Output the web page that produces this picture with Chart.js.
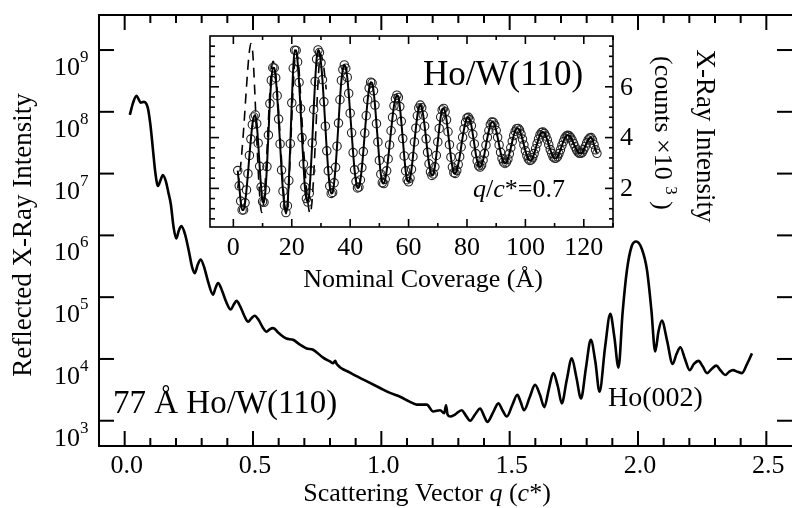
<!DOCTYPE html>
<html>
<head>
<meta charset="utf-8">
<title>Ho/W(110) reflectivity</title>
<script src="https://cdn.jsdelivr.net/npm/chart.js@4.4.1/dist/chart.umd.min.js"></script>
<style>
  html, body { margin: 0; padding: 0; background: #fff; }
  #box { position: relative; width: 792px; height: 508px; }
  #box canvas { position: absolute; left: 0; top: 0; }
</style>
</head>
<body>
<div id="box">
  <canvas id="mainChart" width="792" height="508"></canvas>
  <canvas id="insetChart" width="792" height="508"></canvas>
</div>
<script>
// Main curve: scattering vector q (c*) and reflected intensity
const mainQ = [
  0.020, 0.033, 0.046, 0.055, 0.062, 0.075, 0.090, 0.100, 0.110, 0.120,
  0.130, 0.140, 0.149, 0.160, 0.170, 0.180, 0.190, 0.201, 0.211, 0.221,
  0.235, 0.250, 0.262, 0.273, 0.285, 0.296, 0.310, 0.325, 0.344, 0.354,
  0.364, 0.378, 0.395, 0.413, 0.425, 0.436, 0.450, 0.466, 0.481, 0.494,
  0.507, 0.522, 0.538, 0.553, 0.565, 0.578, 0.600, 0.630, 0.656, 0.683,
  0.709, 0.734, 0.773, 0.800, 0.812, 0.820, 0.826, 0.878, 0.942, 0.995,
  1.034, 1.073, 1.110, 1.138, 1.177, 1.202, 1.229, 1.245, 1.252, 1.258,
  1.268, 1.287, 1.313, 1.330, 1.346, 1.365, 1.385, 1.400, 1.413, 1.435,
  1.456, 1.472, 1.489, 1.510, 1.530, 1.543, 1.556, 1.578, 1.599, 1.618,
  1.635, 1.652, 1.670, 1.688, 1.703, 1.722, 1.742, 1.760, 1.778, 1.797,
  1.816, 1.834, 1.850, 1.872, 1.892, 1.908, 1.924, 1.940, 1.957, 1.975,
  1.993, 2.015, 2.035, 2.052, 2.067, 2.080, 2.093, 2.113, 2.135, 2.150,
  2.165, 2.183, 2.201, 2.218, 2.236, 2.252, 2.269, 2.287, 2.305, 2.322,
  2.340, 2.355, 2.370, 2.388, 2.405, 2.425, 2.444
];
const mainIntensity = [
  8.9e7, 1.41e8, 1.82e8, 1.58e8, 1.41e8, 1.45e8, 1.17e8, 6.3e7, 2.5e7, 1.0e7,
  6.3e6, 7.9e6, 9.5e6, 7.6e6, 5.0e6, 3.16e6, 1.41e6, 8.9e5, 1.2e6, 1.41e6,
  1.05e6, 5.6e5, 3.16e5, 2.45e5, 3.39e5, 4.07e5, 3.02e5, 1.78e5, 1.10e5, 1.41e5,
  1.70e5, 1.32e5, 8.5e4, 6.3e4, 7.6e4, 8.7e4, 7.1e4, 5.0e4, 4.0e4, 4.57e4,
  5.0e4, 4.27e4, 3.24e4, 2.75e4, 3.02e4, 3.16e4, 2.63e4, 2.14e4, 2.04e4, 1.70e4,
  1.48e4, 1.41e4, 1.05e4, 9.1e3, 8.5e3, 9.3e3, 8.3e3, 6.0e3, 4.37e3, 3.39e3,
  2.82e3, 2.45e3, 2.04e3, 1.82e3, 1.82e3, 1.41e3, 1.48e3, 1.32e3, 1.78e3, 1.26e3,
  1.17e3, 1.26e3, 1.48e3, 1.20e3, 1.0e3, 1.26e3, 1.58e3, 1.20e3, 955, 1.35e3,
  1.91e3, 1.48e3, 1.17e3, 1.78e3, 2.63e3, 2.0e3, 1.48e3, 2.40e3, 3.80e3, 2.63e3,
  1.66e3, 3.16e3, 5.89e3, 3.55e3, 1.91e3, 4.47e3, 1.02e4, 5.0e3, 2.29e3, 7.08e3,
  2.04e4, 8.9e3, 2.95e3, 1.58e4, 5.37e4, 2.24e4, 7.24e3, 5.62e4, 2.75e5, 6.61e5,
  7.94e5, 6.03e5, 2.75e5, 6.3e4, 1.32e4, 2.82e4, 4.17e4, 2.0e4, 8.3e3, 1.20e4,
  1.55e4, 1.0e4, 6.6e3, 8.3e3, 9.3e3, 7.6e3, 5.9e3, 6.9e3, 7.8e3, 6.5e3,
  5.5e3, 6.2e3, 6.6e3, 6.2e3, 5.9e3, 8.3e3, 1.23e4
];
const xTicks = [0, 0.5, 1.0, 1.5, 2.0, 2.5];
const xTickLabels = ['0.0', '0.5', '1.0', '1.5', '2.0', '2.5'];
const yDecades = [3, 4, 5, 6, 7, 8, 9];

// Inset: nominal coverage (Å) against intensity (counts x10^3)
const coverage = [
  1.5, 2.0, 2.5, 3.0, 3.5, 4.0, 4.5, 5.0, 5.5, 6.0,
  6.5, 7.0, 7.5, 8.0, 8.5, 9.0, 9.5, 10.0, 10.5, 11.0,
  11.5, 12.0, 12.5, 13.0, 13.5, 14.0, 14.5, 15.0, 15.5, 16.0,
  16.5, 17.0, 17.5, 18.0, 18.5, 19.0, 19.5, 20.0, 20.5, 21.0,
  21.5, 22.0, 22.5, 23.0, 23.5, 24.0, 24.5, 25.0, 25.5, 26.0,
  26.5, 27.0, 27.5, 28.0, 28.5, 29.0, 29.5, 30.0, 30.5, 31.0,
  31.5, 32.0, 32.5, 33.0, 33.5, 34.0, 34.5, 35.0, 35.5, 36.0,
  36.5, 37.0, 37.5, 38.0, 38.5, 39.0, 39.5, 40.0, 40.5, 41.0,
  41.5, 42.0, 42.5, 43.0, 43.5, 44.0, 44.5, 45.0, 45.5, 46.0,
  46.5, 47.0, 47.5, 48.0, 48.5, 49.0, 49.5, 50.0, 50.5, 51.0,
  51.5, 52.0, 52.5, 53.0, 53.5, 54.0, 54.5, 55.0, 55.5, 56.0,
  56.5, 57.0, 57.5, 58.0, 58.5, 59.0, 59.5, 60.0, 60.5, 61.0,
  61.5, 62.0, 62.5, 63.0, 63.5, 64.0, 64.5, 65.0, 65.5, 66.0,
  66.5, 67.0, 67.5, 68.0, 68.5, 69.0, 69.5, 70.0, 70.5, 71.0,
  71.5, 72.0, 72.5, 73.0, 73.5, 74.0, 74.5, 75.0, 75.5, 76.0,
  76.5, 77.0, 77.5, 78.0, 78.5, 79.0, 79.5, 80.0, 80.5, 81.0,
  81.5, 82.0, 82.5, 83.0, 83.5, 84.0, 84.5, 85.0, 85.5, 86.0,
  86.5, 87.0, 87.5, 88.0, 88.5, 89.0, 89.5, 90.0, 90.5, 91.0,
  91.5, 92.0, 92.5, 93.0, 93.5, 94.0, 94.5, 95.0, 95.5, 96.0,
  96.5, 97.0, 97.5, 98.0, 98.5, 99.0, 99.5, 100.0, 100.5, 101.0,
  101.5, 102.0, 102.5, 103.0, 103.5, 104.0, 104.5, 105.0, 105.5, 106.0,
  106.5, 107.0, 107.5, 108.0, 108.5, 109.0, 109.5, 110.0, 110.5, 111.0,
  111.5, 112.0, 112.5, 113.0, 113.5, 114.0, 114.5, 115.0, 115.5, 116.0,
  116.5, 117.0, 117.5, 118.0, 118.5, 119.0, 119.5, 120.0, 120.5, 121.0,
  121.5, 122.0, 122.5, 123.0, 123.5, 124.0, 124.5
];
const counts = [
  2.70, 2.10, 1.50, 1.15, 1.15, 1.43, 1.94, 2.58, 3.30, 3.94,
  4.51, 4.81, 4.89, 4.55, 3.78, 2.87, 2.05, 1.48, 1.45, 1.94,
  2.86, 4.10, 5.34, 6.26, 6.75, 6.74, 6.35, 5.65, 4.73, 3.75,
  2.72, 1.89, 1.34, 1.05, 1.31, 2.31, 3.76, 5.37, 6.73, 7.44,
  7.43, 6.98, 6.17, 5.14, 4.00, 2.96, 2.05, 1.60, 1.46, 1.81,
  2.69, 3.79, 5.11, 6.21, 7.09, 7.45, 7.35, 6.94, 6.28, 5.41,
  4.45, 3.48, 2.69, 2.09, 1.80, 1.84, 2.22, 2.83, 3.66, 4.57,
  5.49, 6.25, 6.68, 6.86, 6.73, 6.37, 5.74, 4.96, 4.19, 3.41,
  2.73, 2.27, 2.02, 2.05, 2.33, 2.82, 3.45, 4.18, 4.86, 5.49,
  5.95, 6.18, 6.15, 5.84, 5.28, 4.55, 3.83, 3.10, 2.56, 2.23,
  2.19, 2.36, 2.69, 3.16, 3.71, 4.27, 4.80, 5.25, 5.53, 5.67,
  5.58, 5.22, 4.64, 3.96, 3.28, 2.69, 2.34, 2.26, 2.40, 2.75,
  3.25, 3.83, 4.37, 4.86, 5.17, 5.28, 5.18, 4.89, 4.45, 3.95,
  3.42, 2.97, 2.65, 2.51, 2.57, 2.85, 3.30, 3.83, 4.36, 4.81,
  5.09, 5.15, 5.02, 4.70, 4.23, 3.72, 3.23, 2.84, 2.62, 2.59,
  2.70, 2.94, 3.25, 3.63, 4.01, 4.34, 4.60, 4.77, 4.80, 4.70,
  4.47, 4.13, 3.75, 3.37, 3.08, 2.89, 2.84, 2.92, 3.11, 3.37,
  3.70, 4.01, 4.28, 4.51, 4.61, 4.60, 4.49, 4.28, 4.01, 3.71,
  3.42, 3.18, 3.04, 2.98, 3.03, 3.15, 3.36, 3.60, 3.85, 4.08,
  4.25, 4.35, 4.36, 4.29, 4.14, 3.94, 3.71, 3.48, 3.30, 3.16,
  3.10, 3.12, 3.21, 3.37, 3.56, 3.76, 3.94, 4.11, 4.20, 4.22,
  4.17, 4.06, 3.91, 3.72, 3.53, 3.38, 3.24, 3.19, 3.19, 3.25,
  3.37, 3.52, 3.69, 3.84, 3.98, 4.06, 4.09, 4.07, 4.00, 3.90,
  3.77, 3.64, 3.52, 3.43, 3.38, 3.38, 3.42, 3.53, 3.65, 3.79,
  3.91, 3.98, 4.00, 3.90, 3.72, 3.52, 3.38
];
// dashed model curve, early coverages only
const modelCoverage = [
  1.5, 2.5, 3.5, 4.5, 5.3, 6.0, 6.6, 7.3, 8.0, 8.8, 9.7, 10.5,
  11.3, 12.1, 12.9, 13.6, 14.4, 15.3, 16.2, 17.1, 18.0, 18.8, 19.6, 20.4,
  21.4, 22.4, 23.3, 24.2, 25.2, 26.3, 27.2, 28.1, 29.0, 29.8, 30.8, 31.8
];
const modelCounts = [
  2.0, 2.9, 4.3, 6.0, 7.2, 7.7, 7.4, 5.9, 4.0, 2.1, 1.05, 1.6,
  3.0, 4.9, 6.5, 7.0, 6.6, 5.4, 3.7, 2.0, 1.0, 1.7, 3.6, 5.8,
  7.4, 6.8, 5.1, 3.3, 1.8, 1.0, 1.9, 3.9, 6.2, 7.3, 6.9, 5.9
];
const insetXTicks = [0, 20, 40, 60, 80, 100, 120];
const insetYTicks = [2, 4, 6];

const SERIF = '"Liberation Serif", "Times New Roman", serif';

function font(size, italic) {
  return (italic ? 'italic ' : '') + size + 'px ' + SERIF;
}

function line(ctx, x1, y1, x2, y2) {
  ctx.beginPath();
  ctx.moveTo(x1, y1);
  ctx.lineTo(x2, y2);
  ctx.stroke();
}

// runs: [text, size, italic, rise]
function drawRuns(ctx, runs, x, y, align) {
  let total = 0;
  runs.forEach(r => { ctx.font = font(r[1], r[2]); total += ctx.measureText(r[0]).width; });
  let cx = align === 'center' ? x - total / 2 : (align === 'right' ? x - total : x);
  ctx.textAlign = 'left';
  ctx.textBaseline = 'alphabetic';
  runs.forEach(r => {
    ctx.font = font(r[1], r[2]);
    ctx.fillText(r[0], cx, y - (r[3] || 0));
    cx += ctx.measureText(r[0]).width;
  });
}

function toPoints(xs, ys) {
  return xs.map((v, i) => ({ x: v, y: ys[i] }));
}

// Axes, ticks and texts of the main plot
const mainFrame = {
  id: 'mainFrame',
  afterDraw(chart) {
    const { ctx, chartArea: a, scales: { x, y } } = chart;
    ctx.save();
    ctx.strokeStyle = '#000';
    ctx.fillStyle = '#000';
    ctx.lineWidth = 2;
    line(ctx, a.left, a.top, a.right, a.top);
    line(ctx, a.left, a.bottom, a.right, a.bottom);
    line(ctx, a.left, a.top - 1, a.left, a.bottom + 1);

    for (let i = 0; i <= 25; i++) {
      const px = x.getPixelForValue(i / 10);
      const len = i % 5 === 0 ? 15 : 8;
      line(ctx, px, a.bottom, px, a.bottom - len);
      line(ctx, px, a.top, px, a.top + len);
    }
    yDecades.forEach(n => {
      const py = y.getPixelForValue(Math.pow(10, n));
      line(ctx, a.left, py, a.left + 15, py);
      line(ctx, a.right, py, a.right - 15, py);
      ctx.textAlign = 'right';
      ctx.textBaseline = 'alphabetic';
      ctx.font = font(26);
      ctx.fillText('10', 80, py + 25);
      ctx.textAlign = 'left';
      ctx.font = font(17);
      ctx.fillText(String(n), 80, py + 12);
    });

    ctx.textAlign = 'center';
    ctx.font = font(26);
    xTicks.forEach((v, i) => ctx.fillText(xTickLabels[i], x.getPixelForValue(v) + 2, 473));

    drawRuns(ctx, [['Scattering Vector ', 26], ['q', 26, true], [' (', 26], ['c', 26, true], ['*)', 26]], 427, 501, 'center');

    ctx.save();
    ctx.translate(31, 235);
    ctx.rotate(-Math.PI / 2);
    ctx.textAlign = 'center';
    ctx.font = font(27);
    ctx.fillText('Reflected X-Ray Intensity', 0, 0);
    ctx.restore();

    drawRuns(ctx, [['77 Å Ho/W(110)', 33]], 113, 413, 'left');
    drawRuns(ctx, [['Ho(002)', 28]], 608, 406, 'left');
    ctx.restore();
  }
};

// Axes, ticks and texts of the inset
const insetFrame = {
  id: 'insetFrame',
  afterDraw(chart) {
    const { ctx, chartArea: a, scales: { x, y } } = chart;
    ctx.save();
    ctx.strokeStyle = '#000';
    ctx.fillStyle = '#000';
    ctx.lineWidth = 1.6;
    ctx.strokeRect(a.left, a.top, a.right - a.left, a.bottom - a.top);

    for (let c = 0; c <= 130; c += 10) {
      const px = x.getPixelForValue(c);
      const len = c % 20 === 0 ? 8 : 4;
      line(ctx, px, a.bottom, px, a.bottom - len);
      line(ctx, px, a.top, px, a.top + len);
    }
    for (let k = 2; k <= 19; k++) {
      const py = y.getPixelForValue(k * 0.4);
      const major = k % 5 === 0;
      line(ctx, a.left, py, a.left + (major ? 9 : 5), py);
      line(ctx, a.right, py, a.right - (major ? 8 : 4), py);
    }

    ctx.font = font(26);
    ctx.textAlign = 'center';
    ctx.textBaseline = 'alphabetic';
    insetXTicks.forEach(v => ctx.fillText(String(v), x.getPixelForValue(v), 255));
    ctx.textAlign = 'left';
    ctx.textBaseline = 'middle';
    insetYTicks.forEach(v => ctx.fillText(String(v), a.right + 7, y.getPixelForValue(v) + 1));

    drawRuns(ctx, [['Nominal Coverage (Å)', 26]], 423, 287, 'center');
    drawRuns(ctx, [['Ho/W(110)', 35]], 423, 85, 'left');
    drawRuns(ctx, [['q', 26, true], ['/', 26], ['c', 26, true], ['*=0.7', 26]], 473, 197, 'left');

    ctx.save();
    ctx.translate(697, 136);
    ctx.rotate(Math.PI / 2);
    drawRuns(ctx, [['X-Ray Intensity', 27]], 0, 0, 'center');
    ctx.restore();

    ctx.save();
    ctx.translate(655, 133);
    ctx.rotate(Math.PI / 2);
    drawRuns(ctx, [['(counts ×10 ', 26], ['3', 17, false, 11], [' )', 26]], 0, 0, 'center');
    ctx.restore();
    ctx.restore();
  }
};

const common = {
  responsive: false,
  animation: false,
  events: [],
  plugins: { legend: { display: false }, tooltip: { enabled: false } }
};

new Chart(document.getElementById('mainChart'), {
  type: 'scatter',
  data: {
    datasets: [{
      data: toPoints(mainQ, mainIntensity),
      showLine: true,
      borderColor: '#000',
      borderWidth: 2.6,
      pointRadius: 0,
      cubicInterpolationMode: 'monotone'
    }]
  },
  options: Object.assign({}, common, {
    layout: { padding: { left: 99, top: 15, right: 0, bottom: 62 } },
    scales: {
      x: { type: 'linear', min: -0.1, max: 2.6, display: false },
      y: { type: 'logarithmic', min: 390, max: 3.69e9, display: false }
    }
  }),
  plugins: [mainFrame]
});

new Chart(document.getElementById('insetChart'), {
  type: 'scatter',
  data: {
    datasets: [
      {
        data: toPoints(coverage, counts),
        showLine: true,
        borderColor: '#000',
        borderWidth: 2,
        pointRadius: 0,
        cubicInterpolationMode: 'monotone'
      },
      {
        data: toPoints(coverage, counts),
        showLine: false,
        pointRadius: 4.2,
        pointBorderWidth: 1.1,
        pointBorderColor: '#222',
        pointBackgroundColor: 'rgba(0,0,0,0)'
      },
      {
        data: toPoints(modelCoverage, modelCounts),
        showLine: true,
        borderColor: '#000',
        borderWidth: 1.6,
        borderDash: [10, 7],
        pointRadius: 0,
        cubicInterpolationMode: 'monotone'
      }
    ]
  },
  options: Object.assign({}, common, {
    layout: { padding: { left: 210, top: 36, right: 179, bottom: 281 } },
    scales: {
      x: { type: 'linear', min: -8, max: 130, display: false },
      y: { type: 'linear', min: 0.48, max: 8.0, display: false }
    }
  }),
  plugins: [insetFrame]
});
</script>
</body>
</html>
